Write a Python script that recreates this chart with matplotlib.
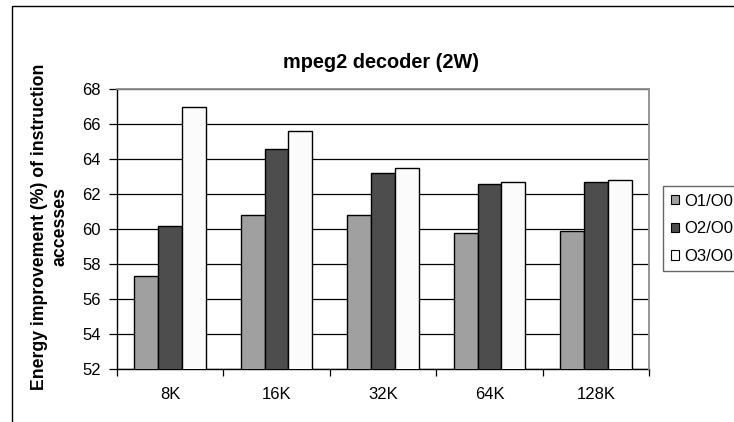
import matplotlib
matplotlib.use("Agg")
import matplotlib.pyplot as plt
import numpy as np
from matplotlib.patches import Rectangle, Patch

plt.rcParams["font.family"] = ["Liberation Sans", "DejaVu Sans"]

cache_sizes = ["8K", "16K", "32K", "64K", "128K"]
series_labels = ["O1/O0", "O2/O0", "O3/O0"]
o1_o0 = [57.3, 60.8, 60.8, 59.8, 59.9]
o2_o0 = [60.2, 64.6, 63.2, 62.6, 62.7]
o3_o0 = [67.0, 65.6, 63.5, 62.7, 62.8]
y_ticks = [52, 54, 56, 58, 60, 62, 64, 66, 68]

series_values = [o1_o0, o2_o0, o3_o0]
series_colors = ["#a0a0a0", "#4d4d4d", "#fbfbfb"]

W, H = 734, 422
fig = plt.figure(figsize=(W / 100, H / 100), dpi=100)

# outer chart frame (runs past the right and bottom edges)
fig.add_artist(Rectangle((12 / W, -0.1), 1.2, 1.1 - 6 / H,
                         transform=fig.transFigure, fill=False,
                         edgecolor="black", linewidth=1.0))

left, right, top, bottom = 116.7, 649.3, 89.0, 369.3
ax = fig.add_axes([left / W, 1 - bottom / H, (right - left) / W, (bottom - top) / H])

x = np.arange(len(cache_sizes))
bw = 0.2245
for i, (vals, col, lab) in enumerate(zip(series_values, series_colors, series_labels)):
    ax.bar(x + (i - 1) * bw, vals, width=bw, color=col, edgecolor="black",
           linewidth=1.0, label=lab, zorder=3)

ax.set_xlim(-0.5, len(cache_sizes) - 0.5)
ax.set_ylim(y_ticks[0], y_ticks[-1])
ax.set_yticks(y_ticks)
ax.set_xticks(x)
ax.set_xticklabels(cache_sizes)
ax.set_xticks(np.arange(len(cache_sizes) + 1) - 0.5, minor=True)
ax.tick_params(axis="y", direction="out", length=5.5, width=0.9, pad=6, labelsize=12)
ax.tick_params(axis="x", which="major", length=0, pad=13, labelsize=12)
ax.tick_params(axis="x", which="minor", direction="out", length=5, width=0.9)

ax.yaxis.grid(True, color="black", linewidth=0.9, zorder=0)
ax.set_axisbelow(True)
for s in ("left", "bottom"):
    ax.spines[s].set_color("black")
    ax.spines[s].set_linewidth(1.0)
for s in ("top", "right"):
    ax.spines[s].set_color("#8c8c8c")
    ax.spines[s].set_linewidth(1.3)
    ax.spines[s].set_zorder(4)

fig.text(381 / W, 1 - 63 / H, "mpeg2 decoder (2W)", ha="center", va="center",
         fontsize=14.3, fontweight="bold")
fig.text(50 / W, 1 - 227 / H, "Energy improvement (%) of instruction\naccesses",
         rotation=90, ha="center", va="center", multialignment="center",
         fontsize=12.7, fontweight="bold", linespacing=1.25)

handles = [Patch(facecolor=c, edgecolor="black", linewidth=0.8) for c in series_colors]
leg = fig.legend(handles, series_labels, loc="upper left",
                 bbox_to_anchor=(663 / W, 1 - 186 / H), bbox_transform=fig.transFigure,
                 fontsize=12, frameon=True, fancybox=False, handlelength=0.5,
                 handleheight=0.5, handletextpad=0.3, labelspacing=0.76,
                 borderpad=0.45, borderaxespad=0)
leg.get_frame().set_edgecolor("#404040")
leg.get_frame().set_linewidth(1.0)

fig.savefig("out.png", dpi=100)
